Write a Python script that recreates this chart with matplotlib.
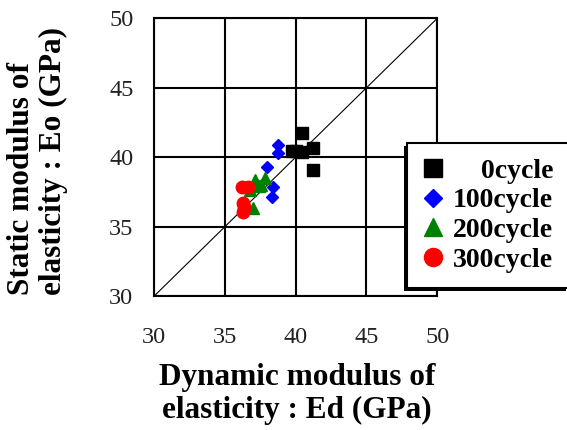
import matplotlib.pyplot as plt
from matplotlib.patches import Rectangle

plt.rcParams['font.family'] = ['Liberation Serif', 'DejaVu Serif']

# Ed (dynamic) vs Eo (static), GPa
ed_0 = [40.46, 39.71, 40.05, 40.42, 41.19, 41.24]
eo_0 = [41.72, 40.47, 40.45, 40.40, 40.64, 39.08]
ed_100 = [38.76, 38.76, 37.94, 38.41, 38.30]
eo_100 = [40.88, 40.28, 39.27, 37.88, 37.11]
ed_200 = [37.12, 37.82, 36.76, 37.58, 37.00, 37.40]
eo_200 = [38.36, 38.48, 37.64, 38.00, 36.32, 37.90]
ed_300 = [36.17, 36.64, 36.29, 36.29, 36.35]
eo_300 = [37.83, 37.83, 36.68, 36.08, 36.40]

labels = ['0cycle', '100cycle', '200cycle', '300cycle']
ticks = [30, 35, 40, 45, 50]

fig = plt.figure(figsize=(5.67, 4.30), dpi=100)
ax = fig.add_axes([0.272, 0.3116, 0.499, 0.6456])

ax.plot([30, 50], [30, 50], color='black', lw=0.8, zorder=1)

ms = 9
h0, = ax.plot(ed_0, eo_0, 's', color='black', ms=ms, ls='none', zorder=3)
h1, = ax.plot(ed_100, eo_100, 'D', color='#0000ff', ms=6, ls='none', zorder=3)
h2, = ax.plot(ed_200, eo_200, '^', color='#008000', ms=ms, ls='none', zorder=3)
h3, = ax.plot(ed_300, eo_300, 'o', color='#ff0000', ms=ms, ls='none', zorder=3)

ax.set_xlim(30, 50)
ax.set_ylim(30, 50)
ax.set_xticks(ticks)
ax.set_yticks(ticks)
ax.grid(True, color='black', lw=1.5)
ax.set_axisbelow(True)
for s in ax.spines.values():
    s.set_linewidth(1.5)
ax.tick_params(length=0, labelsize=17.5, labelcolor='#222222')
ax.tick_params(axis='x', pad=22)
ax.tick_params(axis='y', pad=15)

fig.text(0.524, 1 - 394 / 430, 'Dynamic modulus of\nelasticity : Ed (GPa)', ha='center',
         va='center', fontsize=22.5, fontweight='bold', linespacing=1.2)
fig.text(0.066, 1 - 161 / 430, 'Static modulus of\nelasticity : Eo (GPa)', ha='center',
         va='center', rotation=90, multialignment='left', fontsize=22.5,
         fontweight='bold', linespacing=1.1)

# pad the short label so texts line up on the right
leg_labels = ['    ' + labels[0]] + labels[1:]
leg = fig.legend([h0, h1, h2, h3], leg_labels, loc='upper left',
                 bbox_to_anchor=(407 / 567, 1 - 143 / 430), borderaxespad=0,
                 fancybox=False, framealpha=1, edgecolor='black',
                 markerscale=1.45, handlelength=0.8, handletextpad=0.3,
                 labelspacing=0.15, borderpad=0.55,
                 prop={'weight': 'bold', 'size': 20})
leg.get_frame().set_linewidth(1.5)

# shadow down and to the left of the legend box
fig.canvas.draw()
bb = leg.get_window_extent().transformed(fig.transFigure.inverted())
dx, dy = 3 / 567, 3 / 430
fig.patches.append(Rectangle((bb.x0 - dx, bb.y0 - dy), bb.width, bb.height,
                             transform=fig.transFigure, facecolor='black',
                             edgecolor='none', zorder=4))

fig.savefig('out.png', dpi=100)
